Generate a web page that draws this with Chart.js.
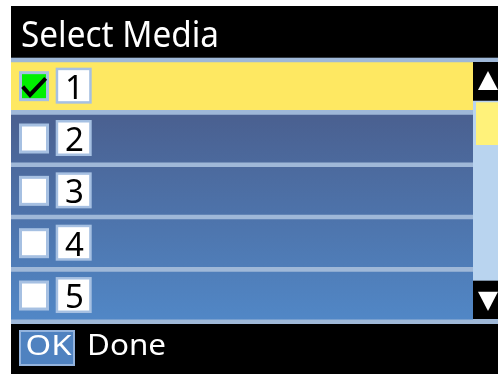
<!DOCTYPE html>
<html>
<head>
<meta charset="utf-8">
<script src="https://cdn.jsdelivr.net/npm/chart.js@4.4.1/dist/chart.umd.min.js"></script>
<style>
html, body { margin: 0; padding: 0; background: #fff; }
#wrap { position: absolute; left: 11px; top: 6px; width: 487px; height: 368px; background: #000; }
</style>
</head>
<body>
<div id="wrap"><canvas id="mediaChart"></canvas></div>
<script>
// Menu data
const mediaSlots = ["1", "2", "3", "4", "5"];
const rowFill = [1, 1, 1, 1, 1];
const checked = [true, false, false, false, false];
const selectedRow = 0;
const titleText = "Select Media";
const okLabel = "OK";
const doneLabel = "Done";

const FONT = '"Noto Sans"';
const SEP = "#9fb8d8";

// draw text squeezed to a given width
function fitText(ctx, text, x, base, size, width, color) {
    ctx.save();
    ctx.font = size + "px " + FONT;
    const w = ctx.measureText(text).width;
    ctx.translate(x, base);
    ctx.scale(width / w, 1);
    ctx.fillStyle = color;
    ctx.textBaseline = "alphabetic";
    ctx.textAlign = "left";
    ctx.fillText(text, 0, 0);
    ctx.restore();
}

const menuChrome = {
    id: "menuChrome",
    beforeDraw(chart) {
        const ctx = chart.ctx;
        ctx.save();
        ctx.fillStyle = "#000";
        ctx.fillRect(0, 0, chart.width, chart.height);
        ctx.fillStyle = SEP;
        ctx.fillRect(0, 51.7, chart.width, 266.3);
        ctx.restore();
        fitText(ctx, titleText, 10, 40.7, 36, 198, "#fff");
    },
    afterDatasetsDraw(chart) {
        const ctx = chart.ctx;
        const y = chart.scales.y;
        ctx.save();
        mediaSlots.forEach((slot, i) => {
            const c = y.getPixelForValue(i);
            // checkbox
            ctx.fillStyle = "#a6c0e2";
            ctx.fillRect(8, c - 15, 30, 30);
            ctx.fillStyle = checked[i] ? "#00f000" : "#fff";
            ctx.fillRect(11, c - 12, 24, 24);
            if (checked[i]) {
                ctx.strokeStyle = "#000";
                ctx.lineWidth = 4;
                ctx.lineJoin = "miter";
                ctx.beginPath();
                ctx.moveTo(11.7, c + 0.5);
                ctx.lineTo(19, c + 8.8);
                ctx.lineTo(34.7, c - 7.9);
                ctx.stroke();
            }
            // number box
            ctx.fillStyle = "#a6c0e2";
            ctx.fillRect(44.7, c - 18.5, 36, 36);
            ctx.fillStyle = "#fff";
            ctx.fillRect(47.2, c - 16, 31, 31);
        });
        ctx.restore();
    },
    afterDraw(chart) {
        const ctx = chart.ctx;
        ctx.save();
        // scrollbar
        ctx.fillStyle = "#b9d4ef";
        ctx.fillRect(462, 94.7, 25, 180);
        ctx.fillStyle = "#fff27a";
        ctx.fillRect(465, 96.3, 22, 42.7);
        ctx.fillStyle = "#000";
        ctx.fillRect(462, 56, 25, 38.7);
        ctx.fillRect(462, 274.7, 25, 38.3);
        ctx.fillStyle = "#fff";
        ctx.beginPath();
        ctx.moveTo(477, 65); ctx.lineTo(487, 84); ctx.lineTo(467, 84);
        ctx.closePath(); ctx.fill();
        ctx.beginPath();
        ctx.moveTo(467, 285.7); ctx.lineTo(487, 285.7); ctx.lineTo(477, 305);
        ctx.closePath(); ctx.fill();
        // footer
        ctx.fillStyle = "#93b3dd";
        ctx.fillRect(8, 324, 56, 36);
        ctx.fillStyle = "#4f82c0";
        ctx.fillRect(10, 326, 52, 32);
        ctx.restore();
        fitText(ctx, okLabel, 14.5, 349, 28, 46, "#fff");
        fitText(ctx, doneLabel, 76, 349, 28.5, 79, "#fff");
    }
};

const ctx = document.getElementById("mediaChart").getContext("2d");
new Chart(ctx, {
    type: "bar",
    data: {
        labels: mediaSlots,
        datasets: [{
            data: rowFill,
            borderWidth: 0,
            barPercentage: 0.912,
            categoryPercentage: 1,
            backgroundColor(c) {
                if (c.dataIndex === selectedRow) return "#fee862";
                const a = c.chart.chartArea;
                if (!a) return "#4c70a8";
                const g = c.chart.ctx.createLinearGradient(0, a.top + 55, 0, a.bottom - 2);
                g.addColorStop(0, "#4a6090");
                g.addColorStop(1, "#5187c6");
                return g;
            }
        }]
    },
    options: {
        indexAxis: "y",
        responsive: true,
        maintainAspectRatio: false,
        animation: false,
        events: [],
        layout: { padding: { top: 54, bottom: 52.3, left: 0, right: 25 } },
        plugins: { legend: { display: false }, tooltip: { enabled: false }, title: { display: false } },
        scales: {
            x: { type: "linear", min: 0, max: 1, display: false },
            y: {
                grid: { display: false, drawTicks: false },
                border: { display: false },
                ticks: {
                    z: 1, mirror: true, padding: 54, labelOffset: 3,
                    color: "#000", font: { family: "Noto Sans", size: 33 }
                },
                afterFit(s) { s.width = 0; s.paddingTop = 0; s.paddingBottom = 0; }
            }
        }
    },
    plugins: [menuChrome]
});
</script>
</body>
</html>
